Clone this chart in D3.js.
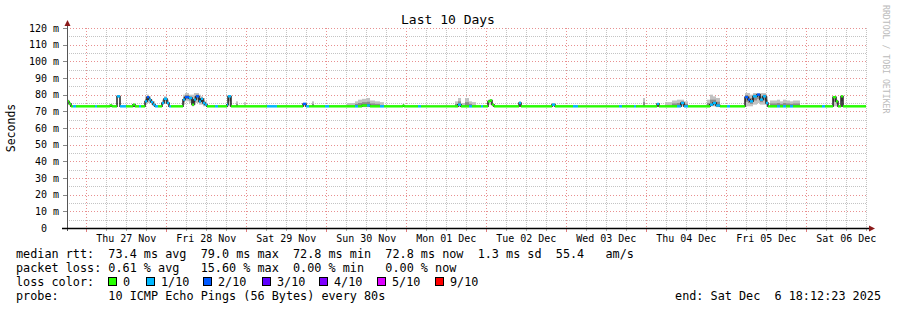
<!DOCTYPE html>
<html>
<head>
<meta charset="utf-8">
<script src="https://cdn.jsdelivr.net/npm/d3@7"></script>
<style>
  body { margin: 0; background: #fff; }
  svg text { font-family: "DejaVu Sans Mono", monospace; white-space: pre; }
</style>
</head>
<body>
<svg id="chart" width="897" height="310" viewBox="0 0 897 310"></svg>
<script>
// time window (end of graph minus 10 days)
const endTime = Date.UTC(2025, 11, 6, 18, 12, 23);
const startTime = Date.UTC(2025, 10, 26, 18, 12, 23);

// runs of constant values, hours after startTime
const runHours = [0, 0.6, 1.2, 1.8, 2.7, 8.4, 9.0, 12.9, 13.5, 15.0, 15.9, 17.7, 19.8, 20.4, 21.6, 22.2,
  23.4, 24.0, 24.6, 25.2, 25.8, 26.4, 27.3, 28.5, 29.1, 30.0, 30.6, 31.2, 34.8, 35.4, 36.6, 37.5,
  38.1, 38.7, 39.6, 40.2, 40.8, 41.4, 42.0, 44.4, 45.3, 48.0, 48.3, 49.2, 50.7, 51.3, 53.1, 53.7,
  60.0, 63.0, 70.8, 71.7, 72.6, 73.5, 74.1, 77.4, 78.6, 84.0, 86.4, 87.3, 88.5, 90.0, 90.9, 92.4,
  93.9, 95.1, 100.8, 101.1, 105.3, 106.2, 116.4, 117.3, 118.2, 119.4, 120.6, 121.5, 122.7, 124.2,
  124.8, 126.3, 126.9, 127.5, 128.1, 135.6, 136.2, 145.5, 146.4, 151.8, 153.3, 165.6, 166.5, 170.1,
  170.7, 172.8, 173.4, 177.0, 177.6, 179.4, 181.5, 183.0, 184.2, 185.1, 186.3, 192.0, 192.9, 193.8,
  194.7, 195.9, 198.0, 198.9, 203.4, 204.3, 204.9, 205.8, 207.0, 207.9, 208.8, 209.7, 210.3, 210.9,
  213.0, 213.9, 214.8, 215.7, 216.9, 217.8, 219.9, 226.5, 227.4, 229.8, 230.7, 231.3, 232.2, 232.8];

// median rtt in ms
const runMedian = [76, 74.5, 73, 73, 73, 73, 73, 73.6, 73, 79, 73, 73, 74, 73, 73, 73,
  76, 78.5, 77, 75.5, 74, 73, 73, 75, 77.5, 75, 73, 73, 77, 78.5, 78, 74,
  77, 79, 76, 77.5, 75, 74, 73, 73, 73, 74, 79, 73, 73, 73, 73, 73,
  73, 73, 74.5, 73, 73, 73, 73, 73, 73, 73, 73, 73, 73.5, 73.5, 73, 73,
  73, 73, 73.5, 73, 73, 73, 73, 74, 73, 73, 73, 73, 73, 73,
  73, 76, 76.5, 74, 73, 75, 73, 74, 73, 73, 73, 73, 73, 73,
  73, 73, 73, 74.5, 73, 73, 73, 73, 75, 73, 73, 73, 74, 75,
  73.5, 73, 73, 73, 78.5, 77, 76, 79, 80, 77, 79, 75, 73, 73,
  73, 73, 73, 73, 73, 73, 73, 73, 73, 78.5, 76, 73, 79, 73];

// lost pings out of 10
const runLoss = [0, 0, 0, 1, 0, 1, 0, 0, 0, 1, 1, 0, 0, 0, 1, 0,
  1, 2, 1, 1, 1, 1, 0, 1, 1, 1, 1, 0, 1, 2, 1, 0,
  1, 2, 1, 1, 1, 1, 0, 1, 0, 1, 1, 0, 0, 0, 0, 0,
  1, 0, 2, 1, 0, 0, 0, 1, 0, 0, 1, 0, 0, 1, 0, 0,
  1, 0, 0, 0, 1, 0, 0, 1, 0, 0, 1, 0, 0, 1,
  0, 0, 0, 0, 0, 1, 0, 1, 0, 1, 0, 1, 0, 1,
  0, 0, 0, 1, 0, 0, 0, 1, 1, 1, 0, 0, 1, 1,
  1, 0, 1, 0, 2, 2, 1, 1, 2, 1, 1, 1, 0, 0,
  1, 0, 1, 0, 1, 0, 0, 1, 0, 0, 0, 0, 0, 0];

// smoke spread (lowest / highest ping) in ms
const smokeLow = [75, 73.5, 72.5, 72.5, 72.5, 72.5, 72.5, 72.5, 72.5, 78, 72.5, 72.5, 72.5, 72.5, 72.5, 72.5,
  74, 75, 75, 74, 73, 72.5, 72.5, 74, 75, 74, 72.5, 72.5, 74, 76, 75, 73,
  74, 75, 74, 74, 73, 73, 72.5, 72.5, 72.5, 72.5, 73, 72.5, 72.5, 72.5, 72.5, 72.5,
  72.5, 72.5, 73, 72.5, 72.5, 72.5, 72.5, 72.5, 72.5, 72.5, 72.5, 72.5, 72.5, 72.5, 72.5, 72.5,
  72.5, 72.5, 72.5, 72.5, 72.5, 72.5, 72.5, 72.5, 72.5, 72.5, 72.5, 72.5, 72.5, 72.5,
  72.5, 74, 74, 73, 72.5, 73, 72.5, 73, 72.5, 72.5, 72.5, 72.5, 72.5, 72.5,
  72.5, 72.5, 72.5, 73, 72.5, 72.5, 72.5, 72.5, 73, 72.5, 72.5, 72.5, 73, 73,
  72.5, 72.5, 72.5, 72.5, 73, 73, 73, 74, 75, 74, 74, 73, 72.5, 72.5,
  72.5, 72.5, 72.5, 72.5, 72.5, 72.5, 72.5, 72.5, 72.5, 73, 73, 72.5, 73, 72.5];
const smokeHigh = [77, 75.5, 73.5, 73.5, 73.5, 73.5, 73.5, 74, 73.5, 79.5, 73.5, 73.5, 74.5, 73.5, 73.5, 73.5,
  79, 80, 79, 77, 76, 73.5, 73.5, 77, 79, 77, 73.5, 73.5, 80, 81, 80, 80,
  81, 81, 80, 79, 78, 76, 73.5, 73.5, 73.5, 74.5, 79.5, 73.5, 76, 73.5, 75.5, 73.5,
  73.5, 73.5, 75, 73.5, 73.5, 76, 73.5, 73.5, 73.5, 75, 76, 77, 77.5, 78, 76.5, 76,
  75.5, 73.5, 74, 73.5, 73.5, 73.5, 76, 78, 75, 78, 76, 75.5, 73.5, 73.5,
  73.5, 77, 77, 74.5, 73.5, 76, 73.5, 75, 73.5, 73.5, 73.5, 73.5, 73.5, 73.5,
  73.5, 78, 73.5, 75, 73.5, 75.5, 76.5, 77, 77, 76, 73.5, 77, 80, 79,
  78, 73.5, 73.5, 73.5, 81, 81, 80, 81, 81, 81, 81, 79, 73.5, 76.5,
  77, 76, 77, 76.5, 76, 76.5, 73.5, 73.5, 73.5, 79, 77, 73.5, 79, 73.5];

// y axis
const yTicks = [0, 10, 20, 30, 40, 50, 60, 70, 80, 90, 100, 110, 120];
const yTickLabels = ["0  ", "10 m", "20 m", "30 m", "40 m", "50 m", "60 m", "70 m", "80 m", "90 m", "100 m", "110 m", "120 m"];

// loss legend
const lossLabels = ["0", "1/10", "2/10", "3/10", "4/10", "5/10", "9/10"];
const lossColors = ["#26ff00", "#00b8ff", "#0059ff", "#5e00ff", "#7e00ff", "#dd00ff", "#ff0000"];
const lossLegendX = [108, 146, 203, 262, 319, 377, 435];

const legendLines = [
  "median rtt:  73.4 ms avg  79.0 ms max  72.8 ms min  72.8 ms now  1.3 ms sd  55.4   am/s",
  "packet loss: 0.61 % avg   15.60 % max  0.00 % min   0.00 % now",
  "loss color:",
  "probe:       10 ICMP Echo Pings (56 Bytes) every 80s"
];
const endLabel = "end: Sat Dec  6 18:12:23 2025";

const svg = d3.select("#chart");
const width = parseInt(svg.attr("viewBox").split(' ')[2]);

svg.append("rect").attr("width", width).attr("height", 310).attr("fill", "#fff");

const x = d3.scaleUtc()
    .domain([new Date(startTime), new Date(endTime)])
    .range([67, 867]);
const y = d3.scaleLinear()
    .domain([0, 120])
    .range([228, 28]);

const toDate = h => new Date(startTime + h * 3600e3);

// grid
const grid = svg.append("g");
const minorY = d3.range(5, 125, 10);
grid.selectAll(".minor-y")
    .data(minorY)
    .enter()
    .append("line")
    .attr("x1", 67).attr("x2", 867)
    .attr("y1", d => Math.round(y(d)) + 0.5).attr("y2", d => Math.round(y(d)) + 0.5)
    .style("stroke", "#c4c4c4")
    .style("stroke-dasharray", "1,1");

const hourLines = x.ticks(d3.utcHour.every(6)).filter(d => d.getUTCHours() !== 0);
grid.selectAll(".minor-x")
    .data(hourLines)
    .enter()
    .append("line")
    .attr("x1", d => Math.round(x(d)) + 0.5).attr("x2", d => Math.round(x(d)) + 0.5)
    .attr("y1", 28).attr("y2", 228)
    .style("stroke", "#c4c4c4")
    .style("stroke-dasharray", "1,1");

grid.selectAll(".major-y")
    .data(yTicks.slice(1))
    .enter()
    .append("line")
    .attr("x1", 67).attr("x2", 867)
    .attr("y1", d => Math.round(y(d)) + 0.5).attr("y2", d => Math.round(y(d)) + 0.5)
    .style("stroke", "#e89090")
    .style("stroke-dasharray", "1,2");

const dayLines = d3.utcDay.range(new Date(startTime), new Date(endTime));
grid.selectAll(".major-x")
    .data(dayLines)
    .enter()
    .append("line")
    .attr("x1", d => Math.round(x(d)) + 0.5).attr("x2", d => Math.round(x(d)) + 0.5)
    .attr("y1", 28).attr("y2", 228)
    .style("stroke", "#e89090")
    .style("stroke-dasharray", "1,2");

// smoke
const runs = runHours.map((h, i) => ({
    t0: toDate(h),
    t1: toDate(i + 1 < runHours.length ? runHours[i + 1] : 240),
    median: runMedian[i],
    loss: runLoss[i],
    lo: smokeLow[i],
    hi: smokeHigh[i]
}));

const smoke = svg.append("g");
smoke.selectAll(".outer")
    .data(runs.filter(d => d.hi - d.lo > 1.2))
    .enter()
    .append("rect")
    .attr("x", d => x(d.t0))
    .attr("width", d => x(d.t1) - x(d.t0))
    .attr("y", d => y(d.hi))
    .attr("height", d => y(d.lo) - y(d.hi))
    .attr("fill", "#c2c2c2");
smoke.selectAll(".inner")
    .data(runs.filter(d => d.hi - d.lo > 3))
    .enter()
    .append("rect")
    .attr("x", d => x(d.t0))
    .attr("width", d => x(d.t1) - x(d.t0))
    .attr("y", d => y(d.median + (d.hi - d.median) * 0.5))
    .attr("height", d => y(d.median - (d.median - d.lo) * 0.5) - y(d.median + (d.hi - d.median) * 0.5))
    .attr("fill", "#8c8c8c");

// median line: black steps, coloured by loss on top
const stepPoints = runs.map(d => [x(d.t0), y(d.median)]);
stepPoints.push([x(new Date(endTime)) - 1, y(runs[runs.length - 1].median)]);
svg.append("path")
    .attr("d", d3.line().curve(d3.curveStepAfter)(stepPoints))
    .attr("fill", "none")
    .style("stroke", "#000")
    .style("stroke-width", 1.3);

const lossColor = l => l >= 6 ? lossColors[6] : lossColors[l];
svg.append("g")
    .selectAll("line")
    .data(runs)
    .enter()
    .append("line")
    .attr("x1", d => x(d.t0))
    .attr("x2", d => Math.min(x(d.t1), 866))
    .attr("y1", d => y(d.median))
    .attr("y2", d => y(d.median))
    .style("stroke", d => lossColor(d.loss))
    .style("stroke-width", 2.4);

// axes
const axes = svg.append("g");
axes.selectAll(".ytick")
    .data(yTicks)
    .enter()
    .append("line")
    .attr("x1", 63).attr("x2", 67)
    .attr("y1", d => Math.round(y(d)) + 0.5).attr("y2", d => Math.round(y(d)) + 0.5)
    .style("stroke", "#888");
axes.selectAll(".xtick-minor")
    .data(hourLines)
    .enter()
    .append("line")
    .attr("x1", d => Math.round(x(d)) + 0.5).attr("x2", d => Math.round(x(d)) + 0.5)
    .attr("y1", 228).attr("y2", 231)
    .style("stroke", "#aaa");
axes.selectAll(".xtick-major")
    .data(dayLines)
    .enter()
    .append("line")
    .attr("x1", d => Math.round(x(d)) + 0.5).attr("x2", d => Math.round(x(d)) + 0.5)
    .attr("y1", 228).attr("y2", 232)
    .style("stroke", "#e08080");

axes.append("line")
    .attr("x1", 67.5).attr("x2", 67.5)
    .attr("y1", 231).attr("y2", 24)
    .style("stroke", "#555");
axes.append("line")
    .attr("x1", 62).attr("x2", 870)
    .attr("y1", 228.5).attr("y2", 228.5)
    .style("stroke", "#000")
    .style("stroke-width", 1.5);
axes.append("path")
    .attr("d", "M64.5,26 L67.5,20 L70.5,26 Z")
    .attr("fill", "#8b1a1a");
axes.append("path")
    .attr("d", "M869,225.5 L875,228.5 L869,231.5 Z")
    .attr("fill", "#8b1a1a");

axes.selectAll(".ylabel")
    .data(yTicks)
    .enter()
    .append("text")
    .attr("x", 59)
    .attr("y", d => y(d) + 3.5)
    .attr("text-anchor", "end")
    .style("font-size", "10px")
    .text((d, i) => yTickLabels[i]);

const dayLabels = d3.utcDay.range(new Date(startTime), new Date(endTime))
    .map(d => d3.utcHour.offset(d, 12));
axes.selectAll(".xlabel")
    .data(dayLabels)
    .enter()
    .append("text")
    .attr("x", d => x(d))
    .attr("y", 242)
    .attr("text-anchor", "middle")
    .style("font-size", "10px")
    .text(d => d3.utcFormat("%a %d %b")(d));

// titles
svg.append("text")
    .attr("x", 448)
    .attr("y", 24)
    .attr("text-anchor", "middle")
    .style("font-size", "13px")
    .text("Last 10 Days");

svg.append("text")
    .attr("transform", "translate(15,128) rotate(-90)")
    .attr("text-anchor", "middle")
    .style("font-size", "11.5px")
    .text("Seconds");

svg.append("text")
    .attr("transform", "translate(883,5) rotate(90)")
    .attr("text-anchor", "start")
    .style("font-size", "8.2px")
    .attr("fill", "#bbb")
    .text("RRDTOOL / TOBI OETIKER");

// legend
const legend = svg.append("g");
legendLines.forEach((line, i) => {
    legend.append("text")
        .attr("x", 16)
        .attr("y", 258 + i * 14)
        .style("font-size", "11.8px")
        .text(line);
});

lossLabels.forEach((label, i) => {
    legend.append("rect")
        .attr("x", lossLegendX[i] + 0.5)
        .attr("y", 277.5)
        .attr("width", 8)
        .attr("height", 8)
        .attr("fill", lossColors[i])
        .style("stroke", "#000")
        .style("stroke-width", 1);
    legend.append("text")
        .attr("x", lossLegendX[i] + 15)
        .attr("y", 286)
        .style("font-size", "11.8px")
        .text(label);
});

legend.append("text")
    .attr("x", 881)
    .attr("y", 300)
    .attr("text-anchor", "end")
    .style("font-size", "11.8px")
    .text(endLabel);
</script>
</body>
</html>
